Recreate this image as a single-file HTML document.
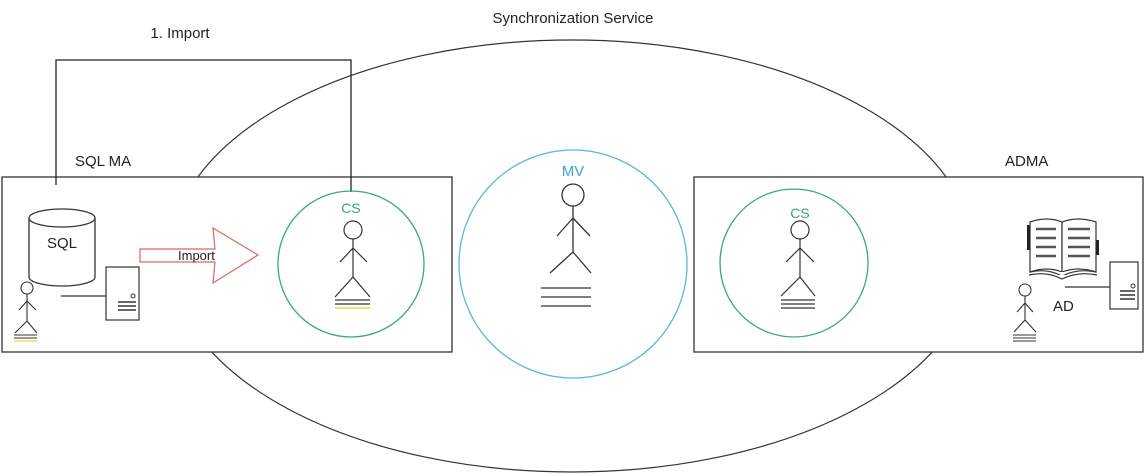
<!DOCTYPE html>
<html><head><meta charset="utf-8"><style>
html,body{margin:0;padding:0;background:#fff;}
svg{display:block;font-family:"Liberation Sans",sans-serif;}
</style></head><body>
<svg width="1146" height="476" viewBox="0 0 1146 476" xmlns="http://www.w3.org/2000/svg">
<rect width="1146" height="476" fill="#fff"/>
<ellipse cx="572" cy="256" rx="402" ry="216" fill="none" stroke="#333" stroke-width="1.2"/>
<text x="573" y="23" font-size="15" text-anchor="middle" fill="#222">Synchronization Service</text>
<text x="180" y="38" font-size="15" text-anchor="middle" fill="#222">1. Import</text>
<text x="75" y="166" font-size="15" fill="#222">SQL MA</text>
<text x="1005" y="166" font-size="15" fill="#222">ADMA</text>
<!-- boxes -->
<rect x="2" y="177" width="450" height="175" fill="#fff" stroke="#333" stroke-width="1.3"/>
<rect x="694" y="177" width="449" height="175" fill="#fff" stroke="#333" stroke-width="1.3"/>
<!-- connector -->
<polyline points="56,185 56,60 351,60 351,192" fill="none" stroke="#222" stroke-width="1.3"/>
<!-- MV -->
<circle cx="573" cy="264" r="114" fill="#fff" stroke="#5bb8d8" stroke-width="1.3"/>
<text x="573" y="176" font-size="15" text-anchor="middle" fill="#3aa6d4">MV</text>
<g stroke="#333" stroke-width="1.3" fill="none">
<circle cx="573" cy="195" r="11"/>
<line x1="573" y1="206" x2="573" y2="252"/>
<line x1="573" y1="218" x2="557" y2="236"/><line x1="573" y1="218" x2="590" y2="236"/>
<line x1="573" y1="252" x2="550" y2="273"/><line x1="573" y1="252" x2="591" y2="273"/>
<line x1="541" y1="288" x2="591" y2="288"/><line x1="541" y1="297" x2="591" y2="297"/><line x1="541" y1="306" x2="591" y2="306"/>
</g>
<!-- left CS -->
<circle cx="351" cy="264" r="73" fill="none" stroke="#3aa87a" stroke-width="1.3"/>
<text x="351" y="213" font-size="14" text-anchor="middle" fill="#3aa870">CS</text>
<g stroke="#333" stroke-width="1.2" fill="none">
<circle cx="353" cy="230" r="9"/>
<line x1="353" y1="239" x2="353" y2="277"/>
<line x1="353" y1="248" x2="340" y2="262"/><line x1="353" y1="248" x2="367" y2="262"/>
<line x1="353" y1="277" x2="335" y2="297"/><line x1="353" y1="277" x2="370" y2="297"/>
<line x1="335" y1="300" x2="370" y2="300"/><line x1="335" y1="304" x2="370" y2="304"/>
</g>
<line x1="335" y1="308" x2="370" y2="308" stroke="#e8d840" stroke-width="1.5"/>
<!-- right CS -->
<circle cx="794" cy="263" r="74" fill="none" stroke="#3aa87a" stroke-width="1.3"/>
<text x="800" y="218" font-size="14" text-anchor="middle" fill="#3aa870">CS</text>
<g stroke="#333" stroke-width="1.2" fill="none">
<circle cx="800" cy="230" r="9"/>
<line x1="800" y1="239" x2="800" y2="277"/>
<line x1="800" y1="248" x2="786" y2="262"/><line x1="800" y1="248" x2="814" y2="262"/>
<line x1="800" y1="277" x2="781" y2="296"/><line x1="800" y1="277" x2="815" y2="296"/>
<line x1="781" y1="300" x2="815" y2="300"/><line x1="781" y1="304" x2="815" y2="304"/><line x1="781" y1="308" x2="815" y2="308"/>
</g>
<!-- SQL cylinder -->
<g stroke="#333" stroke-width="1.3" fill="#fff">
<path d="M29,218 L29,277 A33,9 0 0 0 95,277 L95,218"/>
<ellipse cx="62" cy="218" rx="33" ry="9"/>
</g>
<text x="62" y="248" font-size="15" text-anchor="middle" fill="#222">SQL</text>
<!-- server left -->
<rect x="106" y="267" width="33" height="53" fill="#fff" stroke="#333" stroke-width="1.2"/>
<circle cx="133" cy="296" r="2" fill="none" stroke="#333"/>
<g stroke="#333" stroke-width="1.5"><line x1="118" y1="302" x2="136" y2="302"/><line x1="118" y1="306" x2="136" y2="306"/><line x1="118" y1="310" x2="136" y2="310"/></g>
<line x1="61" y1="296" x2="106" y2="296" stroke="#333" stroke-width="1.3"/>
<!-- small person left -->
<g stroke="#333" stroke-width="1.1" fill="none">
<circle cx="27" cy="288" r="6"/>
<line x1="27" y1="294" x2="27" y2="321"/>
<line x1="27" y1="301" x2="19" y2="310"/><line x1="27" y1="301" x2="36" y2="310"/>
<line x1="27" y1="321" x2="15" y2="333"/><line x1="27" y1="321" x2="37" y2="333"/>
<line x1="14" y1="335" x2="37" y2="335"/><line x1="14" y1="338" x2="37" y2="338"/>
</g>
<line x1="14" y1="341" x2="37" y2="341" stroke="#e8d840" stroke-width="1.3"/>
<!-- import arrow -->
<polygon points="140,249 215,249 213,228 258,255 213,283 215,262 140,262" fill="#fff" stroke="#d66" stroke-width="1.2"/>
<text x="178" y="260" font-size="13" fill="#222">Import</text>
<!-- book -->
<g stroke="#333" stroke-width="1.2" fill="#fff">
<path d="M1030,222 Q1047,216 1062,222 L1062,272 Q1047,266 1030,272 Z"/>
<path d="M1062,222 Q1078,216 1096,222 L1096,272 Q1078,266 1062,272 Z"/>
<path d="M1030,272 Q1047,268 1062,276 Q1078,268 1096,272"/>
<path d="M1029,275 Q1047,271 1062,279 Q1078,271 1097,275"/>
</g>
<rect x="1027" y="225" width="3" height="25" fill="#222"/>
<rect x="1096" y="240" width="3" height="15" fill="#222"/>
<g stroke="#555" stroke-width="2.5">
<line x1="1036" y1="229" x2="1056" y2="229"/><line x1="1036" y1="238" x2="1056" y2="238"/><line x1="1036" y1="247" x2="1056" y2="247"/><line x1="1036" y1="256" x2="1056" y2="256"/>
<line x1="1068" y1="229" x2="1090" y2="229"/><line x1="1068" y1="238" x2="1090" y2="238"/><line x1="1068" y1="247" x2="1090" y2="247"/><line x1="1068" y1="256" x2="1090" y2="256"/>
</g>
<!-- server right -->
<rect x="1110" y="262" width="28" height="47" fill="#fff" stroke="#333" stroke-width="1.2"/>
<circle cx="1133" cy="286" r="2" fill="none" stroke="#333"/>
<g stroke="#333" stroke-width="1.5"><line x1="1120" y1="291" x2="1135" y2="291"/><line x1="1120" y1="295" x2="1135" y2="295"/><line x1="1120" y1="299" x2="1135" y2="299"/></g>
<line x1="1065" y1="287" x2="1110" y2="287" stroke="#333" stroke-width="1.3"/>
<text x="1053" y="311" font-size="15" fill="#222">AD</text>
<g stroke="#333" stroke-width="1.1" fill="none">
<circle cx="1025" cy="290" r="6"/>
<line x1="1025" y1="296" x2="1025" y2="320"/>
<line x1="1025" y1="303" x2="1017" y2="312"/><line x1="1025" y1="303" x2="1033" y2="312"/>
<line x1="1025" y1="320" x2="1014" y2="332"/><line x1="1025" y1="320" x2="1036" y2="332"/>
<line x1="1013" y1="335" x2="1036" y2="335"/><line x1="1013" y1="338" x2="1036" y2="338"/><line x1="1013" y1="341" x2="1036" y2="341"/>
</g>
</svg>
</body></html>
